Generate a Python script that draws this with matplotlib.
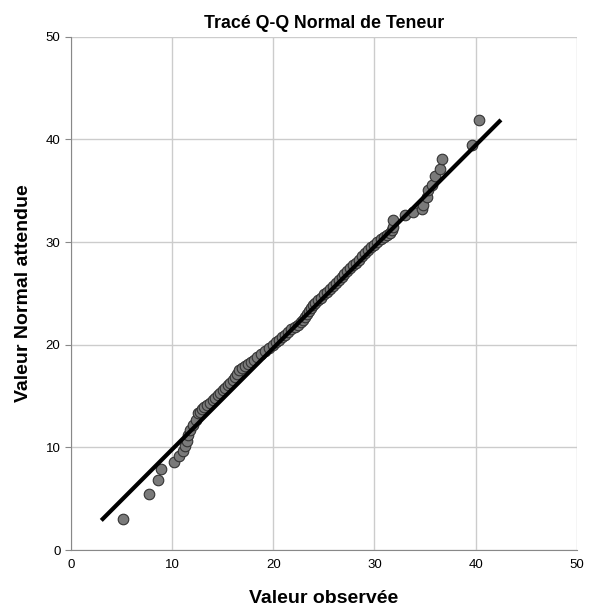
import matplotlib
matplotlib.use("Agg")
import matplotlib.pyplot as plt

plt.rcParams['font.family'] = ['Liberation Sans', 'DejaVu Sans']

observed = [5.1, 7.7, 8.6, 8.9, 10.2, 10.7, 11.1, 11.3, 11.5, 11.6, 11.8, 12.1, 12.4, 12.6,
            12.8, 13.0, 13.2, 13.4, 13.7, 14.0, 14.2, 14.5, 14.7, 15.0, 15.2, 15.5, 15.7,
            16.0, 16.2, 16.4, 16.6, 16.9, 17.2, 17.5, 17.8, 18.1, 18.4, 18.8, 19.2, 19.6,
            20.0, 20.3, 20.6, 20.9, 21.2, 21.5, 21.8, 22.1, 22.4, 22.7, 22.9, 23.1, 23.3,
            23.5, 23.7, 23.9, 24.1, 24.4, 24.7, 25.0, 25.3, 25.6, 25.9, 26.2, 26.5, 26.8,
            27.0, 27.3, 27.6, 27.9, 28.2, 28.5, 28.8, 29.1, 29.4, 29.7, 30.0, 30.3, 30.6,
            30.9, 31.2, 31.5, 31.7, 31.8, 31.8, 33.0, 33.8, 34.7, 34.8, 35.2, 35.3, 35.7,
            36.0, 36.5, 36.7, 39.6, 40.3]
expected = [3.0, 5.5, 6.8, 7.9, 8.6, 9.2, 9.7, 10.1, 10.6, 11.2, 11.7, 12.2, 12.7, 13.4,
            13.5, 13.7, 13.9, 14.1, 14.3, 14.6, 14.8, 15.1, 15.3, 15.6, 15.8, 16.1, 16.3,
            16.6, 16.9, 17.2, 17.5, 17.7, 17.9, 18.1, 18.3, 18.5, 18.8, 19.1, 19.4, 19.7,
            20.0, 20.3, 20.5, 20.8, 21.0, 21.2, 21.5, 21.7, 21.9, 22.2, 22.4, 22.7, 23.0,
            23.3, 23.6, 23.9, 24.1, 24.4, 24.6, 24.9, 25.1, 25.4, 25.7, 26.0, 26.3, 26.6,
            26.9, 27.2, 27.5, 27.8, 28.0, 28.3, 28.6, 28.9, 29.2, 29.5, 29.7, 30.0, 30.3,
            30.5, 30.7, 30.9, 31.2, 31.5, 32.2, 32.6, 32.9, 33.2, 33.6, 34.4, 35.1, 35.6,
            36.4, 37.1, 38.1, 39.5, 41.9]
ref_line_x = [3.0, 42.5]
ref_line_y = [2.9, 41.9]
ticks = [0, 10, 20, 30, 40, 50]

fig = plt.figure(figsize=(5.91, 6.12), dpi=100)
ax = fig.add_axes([0.120, 0.101, 0.856, 0.839])

ax.grid(True, color='#cccccc', linewidth=1)
ax.set_axisbelow(True)
ax.scatter(observed, expected, s=58, facecolor='#7a7a7a', edgecolor='#333333',
           linewidth=0.8, zorder=3)
ax.plot(ref_line_x, ref_line_y, color='black', linewidth=3, solid_capstyle='butt', zorder=4)

ax.set_xlim(0, 50)
ax.set_ylim(0, 50)
ax.set_xticks(ticks)
ax.set_yticks(ticks)
ax.tick_params(labelsize=9.5, length=4, color='#888888')
ax.tick_params(axis='x', length=0, pad=6)
for side in ['top', 'right']:
    ax.spines[side].set_visible(False)
for side in ['left', 'bottom']:
    ax.spines[side].set_color('#888888')

ax.set_title('Tracé Q-Q Normal de Teneur', fontsize=12.8, fontweight='bold', pad=6)
ax.set_xlabel('Valeur observée', fontsize=14, fontweight='bold', labelpad=14)
ax.set_ylabel('Valeur Normal attendue', fontsize=14, fontweight='bold', labelpad=10)

fig.savefig('out.png', dpi=100)
